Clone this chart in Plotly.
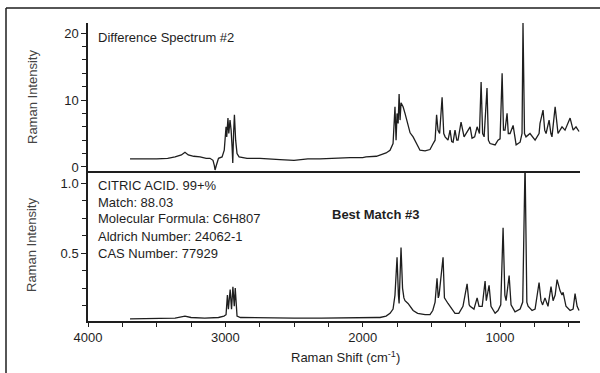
import plotly.graph_objects as go
from plotly.subplots import make_subplots

# Difference spectrum #2 (Raman shift in cm-1, intensity)
diff_shift = [3694, 3600, 3500, 3420, 3366, 3320, 3294, 3270, 3230, 3184, 3140, 3112, 3090, 3080, 3075,
              3065, 3050, 3024, 3008, 2995, 2990, 2981, 2975, 2966, 2958, 2951, 2946, 2940, 2934, 2925,
              2915, 2900, 2870, 2842, 2748, 2650, 2602, 2500, 2456, 2400, 2311, 2216, 2150, 2092, 2000,
              1976, 1900, 1874, 1830, 1801, 1779, 1765, 1757, 1750, 1742, 1735, 1728, 1721, 1706, 1692,
              1670, 1655, 1633, 1619, 1600, 1583, 1546, 1510, 1490, 1473, 1462, 1452, 1440, 1422, 1410,
              1400, 1379, 1364, 1352, 1342, 1328, 1315, 1306, 1284, 1262, 1240, 1218, 1204, 1185, 1167,
              1150, 1138, 1127, 1116, 1095, 1085, 1073, 1036, 1015, 1000, 985, 975, 964, 949, 940,
              927, 905, 883, 854, 840, 833, 822, 811, 782, 745, 716, 709, 687, 675, 665,
              643, 630, 622, 599, 585, 578, 549, 527, 490, 468, 447, 425]
diff_intensity = [1.2, 1.15, 1.2, 1.3, 1.5, 1.8, 2.2, 1.8, 1.6, 1.5, 1.3, 1.3, 1.0, 0.2, -0.45,
                  0.3, 1.3, 1.5, 2.5, 6.0, 4.5, 7.3, 5.0, 7.0, 5.5, 3.0, 0.6, 5.0, 7.8, 4.0,
                  2.0, 1.5, 1.4, 1.3, 1.3, 1.1, 1.1, 1.0, 1.1, 1.2, 1.2, 1.3, 1.4, 1.4, 1.4,
                  1.5, 1.6, 1.8, 2.1, 2.5, 3.5, 9.0, 4.0, 8.0, 6.5, 10.9, 7.0, 9.6, 9.0, 8.0,
                  6.0, 5.1, 4.5, 4.0, 3.2, 2.5, 2.4, 2.6, 3.4, 4.0, 7.8, 5.5, 5.0, 10.4, 5.0,
                  4.5, 4.0, 5.5, 3.8, 3.7, 5.5, 4.0, 4.0, 6.7, 4.5, 5.2, 6.0, 4.3, 4.5, 6.0,
                  5.0, 12.7, 5.0, 4.5, 11.8, 4.0, 3.5, 3.3, 4.0, 4.2, 14.0, 5.5, 5.5, 8.0, 5.0,
                  5.0, 6.2, 3.3, 3.7, 5.0, 21.5, 5.0, 4.5, 5.0, 4.0, 5.0, 6.5, 8.5, 5.5, 5.0,
                  7.0, 5.0, 4.5, 9.0, 5.5, 5.0, 6.0, 5.5, 7.3, 5.5, 6.0, 5.3]

# Library best match #3: citric acid
match_shift = [3694, 3500, 3366, 3294, 3250, 3150, 3050, 3010, 2995, 2985, 2978, 2965, 2955, 2945, 2935,
               2928, 2915, 2890, 2700, 2500, 2300, 2100, 1900, 1874, 1830, 1801, 1779, 1765, 1750, 1740,
               1735, 1721, 1710, 1700, 1692, 1670, 1655, 1633, 1600, 1546, 1510, 1490, 1473, 1459, 1450,
               1444, 1415, 1405, 1379, 1364, 1342, 1328, 1300, 1270, 1240, 1225, 1218, 1190, 1167, 1153,
               1130, 1109, 1100, 1080, 1066, 1036, 1015, 995, 978, 965, 956, 934, 920, 891, 854,
               835, 818, 805, 796, 767, 745, 716, 702, 690, 673, 651, 629, 614, 599, 585,
               563, 549, 541, 520, 490, 468, 454, 439, 425]
match_intensity = [0.03, 0.03, 0.035, 0.05, 0.04, 0.035, 0.04, 0.05, 0.06, 0.2, 0.1, 0.24, 0.1, 0.26, 0.12,
                   0.25, 0.05, 0.04, 0.035, 0.035, 0.035, 0.04, 0.04, 0.04, 0.05, 0.07, 0.1, 0.2, 0.47, 0.2,
                   0.14, 0.54, 0.25, 0.18, 0.16, 0.14, 0.12, 0.09, 0.07, 0.06, 0.06, 0.09, 0.15, 0.32, 0.18,
                   0.2, 0.47, 0.18, 0.14, 0.12, 0.09, 0.07, 0.07, 0.12, 0.28, 0.13, 0.12, 0.1, 0.18, 0.12,
                   0.12, 0.3, 0.16, 0.27, 0.12, 0.07, 0.09, 0.13, 0.68, 0.2, 0.16, 0.34, 0.13, 0.08, 0.1,
                   0.15, 1.15, 0.15, 0.12, 0.09, 0.1, 0.29, 0.16, 0.13, 0.18, 0.12, 0.26, 0.16, 0.2, 0.31,
                   0.23, 0.2, 0.22, 0.12, 0.09, 0.1, 0.21, 0.12, 0.09]

x_ticks = [4000, 3000, 2000, 1000]
info_lines = ["CITRIC ACID. 99+%", "Match: 88.03", "Molecular Formula: C6H807",
              "Aldrich Number: 24062-1", "CAS Number: 77929"]

FONT = "Liberation Sans, Arial, sans-serif"
INK = "#1e1e1e"

# plot-area geometry in pixels
W, H = 600, 373
L, R, T, B = 88, 20, 23, 52
PW, PH = W - L - R, H - T - B


def px(xp):
    return (xp - L) / PW


def py(yp):
    return (H - B - yp) / PH


fig = make_subplots(rows=2, cols=1, shared_xaxes=True, vertical_spacing=0,
                    row_heights=[148 / 298, 150 / 298])

fig.add_trace(go.Scatter(x=diff_shift, y=diff_intensity, mode="lines",
                         line=dict(color=INK, width=1.3), showlegend=False), row=1, col=1)
fig.add_trace(go.Scatter(x=match_shift, y=match_intensity, mode="lines",
                         line=dict(color=INK, width=1.3), showlegend=False), row=2, col=1)

tickfont = dict(family=FONT, size=13, color=INK)

fig.update_xaxes(range=[4000, 418], showgrid=False, zeroline=False, showline=True,
                 linecolor=INK)
fig.update_xaxes(row=1, col=1, linewidth=2, ticks="", showticklabels=False)
fig.update_xaxes(row=2, col=1, linewidth=1.5, ticks="outside", ticklen=4, tickwidth=1.3,
                 tickcolor=INK, tickmode="array", tickvals=x_ticks,
                 ticktext=[str(v) for v in x_ticks], tickfont=tickfont,
                 minor=dict(ticks="outside", ticklen=4, tickwidth=1.3, tickcolor=INK,
                            dtick=250, tick0=0))

fig.update_yaxes(row=1, col=1, range=[-0.6, 21.5], showgrid=False, zeroline=False,
                 showline=True, linewidth=1.5, linecolor=INK, ticks="outside", ticklen=5,
                 tickwidth=1.3, tickcolor=INK, tickmode="linear", tick0=0, dtick=10,
                 tickfont=tickfont,
                 minor=dict(ticks="outside", ticklen=4, tickwidth=1.2, tickcolor=INK,
                            dtick=2, tick0=0))
fig.update_yaxes(row=2, col=1, range=[0.015, 1.086], showgrid=False, zeroline=False,
                 showline=True, linewidth=1.5, linecolor=INK, ticks="outside", ticklen=5,
                 tickwidth=1.3, tickcolor=INK, tickmode="linear", tick0=0, dtick=0.5,
                 tickformat=".1f", tickfont=tickfont,
                 minor=dict(ticks="outside", ticklen=4, tickwidth=1.2, tickcolor=INK,
                            dtick=0.125, tick0=0))

annotations = [
    dict(text="Difference Spectrum #2", x=px(96), y=py(38), xanchor="left", yanchor="middle",
         font=dict(family=FONT, size=13, color=INK)),
    dict(text="<b>Best Match #3</b>", x=px(330), y=py(214), xanchor="left", yanchor="middle",
         font=dict(family=FONT, size=13, color=INK)),
    dict(text="Raman Intensity", x=px(33), y=py(97), textangle=-90, xanchor="center",
         yanchor="middle", font=dict(family=FONT, size=13, color="#444")),
    dict(text="Raman Intensity", x=px(32), y=py(245), textangle=-90, xanchor="center",
         yanchor="middle", font=dict(family=FONT, size=13, color="#444")),
    dict(text="Raman Shift (cm<sup>-1</sup>)", x=px(345), y=py(357), xanchor="center",
         yanchor="middle", font=dict(family=FONT, size=13, color=INK)),
]
for i, line in enumerate(info_lines):
    annotations.append(dict(text=line, x=px(96), y=py(185 + 17 * i), xanchor="left",
                            yanchor="middle", font=dict(family=FONT, size=13, color=INK)))
for a in annotations:
    a.update(xref="paper", yref="paper", showarrow=False)

# frame around the figure (left and top edges)
shapes = [
    dict(type="line", xref="paper", yref="paper", x0=px(6), x1=px(600), y0=py(8), y1=py(8),
         line=dict(color=INK, width=1.5)),
    dict(type="line", xref="paper", yref="paper", x0=px(6), x1=px(6), y0=py(8), y1=py(373),
         line=dict(color=INK, width=1.5)),
]

fig.update_layout(width=W, height=H, margin=dict(l=L, r=R, t=T, b=B),
                  paper_bgcolor="white", plot_bgcolor="white",
                  annotations=annotations, shapes=shapes,
                  font=dict(family=FONT, size=13, color=INK))

fig.write_html("out.html")
